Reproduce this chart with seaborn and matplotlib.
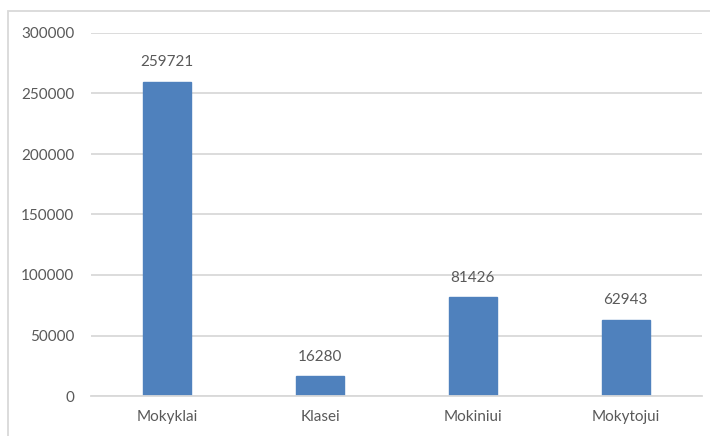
import matplotlib
matplotlib.use("Agg")
import matplotlib.pyplot as plt
import seaborn as sns
import pandas as pd
from matplotlib.patches import Rectangle

categories = ["Mokyklai", "Klasei", "Mokiniui", "Mokytojui"]
values = [259721, 16280, 81426, 62943]
yticks = [0, 50000, 100000, 150000, 200000, 250000, 300000]

sns.set_style("white")
plt.rcParams['font.family'] = ['Lato', 'DejaVu Sans']

W, H = 710, 436
fig = plt.figure(figsize=(W / 100, H / 100), dpi=100)
ax = fig.add_axes([91 / W, 1 - 396 / H, (702 - 91) / W, (396 - 33) / H])

df = pd.DataFrame({"cat": categories, "val": values})
sns.barplot(data=df, x="cat", y="val", ax=ax, color="#4F81BD", width=0.314,
            saturation=1, edgecolor="#4F81BD")

ax.set_ylim(0, 300000)
ax.set_yticks(yticks)
ax.set_yticklabels([str(t) for t in yticks])
ax.yaxis.grid(True, color="#D9D9D9", linewidth=1.3)
ax.set_axisbelow(True)
for s in ["top", "right", "left"]:
    ax.spines[s].set_visible(False)
ax.spines["bottom"].set_color("#D9D9D9")
ax.spines["bottom"].set_linewidth(1.3)
ax.set_xlabel("")
ax.set_ylabel("")
ax.tick_params(axis="both", length=0, labelsize=11, labelcolor="#595959")
ax.tick_params(axis="y", pad=12)
ax.tick_params(axis="x", pad=10)

for i, v in enumerate(values):
    ax.annotate(str(v), (i, v), xytext=(0, 9), textcoords="offset points",
                ha="center", va="bottom", fontsize=11, color="#595959")

fig.patches.append(Rectangle((8 / W, -0.1), 1.2, 1 - 11 / H + 0.1,
                             transform=fig.transFigure, fill=False,
                             edgecolor="#D9D9D9", linewidth=1.3))

fig.savefig("out.png", dpi=100)
